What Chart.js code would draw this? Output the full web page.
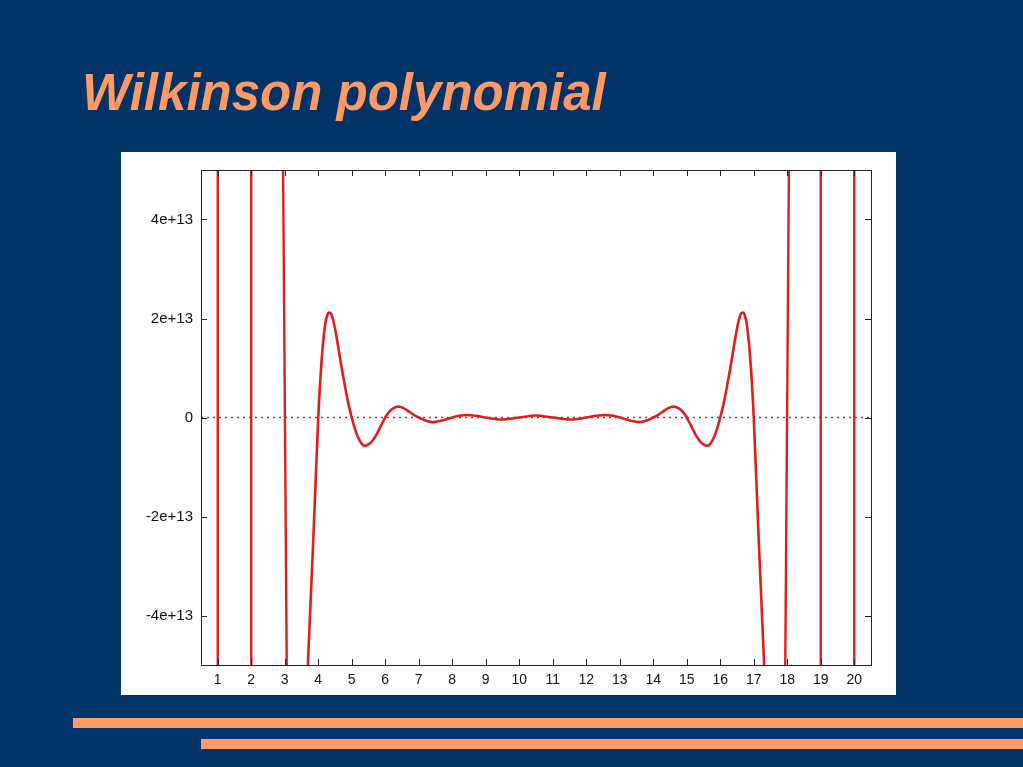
<!DOCTYPE html>
<html>
<head>
<meta charset="utf-8">
<script src="https://cdn.jsdelivr.net/npm/chart.js@4/dist/chart.umd.min.js"></script>
<style>
  html, body { margin: 0; padding: 0; }
  body { width: 1023px; height: 767px; background: #003366; position: relative; overflow: hidden; }
  #title {
    position: absolute; left: 82px; top: 67px;
    font: italic bold 51px "Liberation Sans", Arial, Helvetica, sans-serif;
    line-height: 51px; color: #ff9966; white-space: nowrap;
  }
  #panel { position: absolute; left: 121px; top: 152px; width: 775px; height: 543px; background: #fff; }
  .bar { position: absolute; background: #ff9966; }
</style>
</head>
<body>
<div id="title">Wilkinson polynomial</div>
<div id="panel"><canvas id="wilkChart"></canvas></div>
<div class="bar" style="left:73px; top:718px; width:950px; height:10px;"></div>
<div class="bar" style="left:201px; top:739px; width:822px; height:10px;"></div>
<script>
// x ticks and y ticks (y in units of 1e13)
const X_TICKS = [1, 2, 3, 4, 5, 6, 7, 8, 9, 10, 11, 12, 13, 14, 15, 16, 17, 18, 19, 20];
const Y_TICKS = [-4, -2, 0, 2, 4];
const Y_TICK_LABELS = ["-4e+13", "-2e+13", "0", "2e+13", "4e+13"];

// near-vertical crossings at the outer roots (null = gap between pieces)
const STEEP_X = [1.0, 1.0, 1.5, 2.0, 2.0, 2.5, 2.94, 3.07, 10.5, 17.93, 18.06, 18.5, 19.0, 19.0, 19.5, 20.0, 20.0];
const STEEP_Y = [6, -6, null, -6, 6, null, 6, -6, null, -6, 6, null, 6, -6, null, -6, 6];

// middle part of the curve, y in units of 1e13
const CURVE_X = [3.45, 3.69, 3.85, 4.0, 4.1, 4.2, 4.27, 4.33, 4.4, 4.5, 4.65, 4.8, 4.9,
  5.0, 5.1, 5.2, 5.3, 5.37, 5.45, 5.55, 5.65, 5.75, 5.87,
  6.0, 6.12, 6.25, 6.39, 6.55, 6.7, 6.85,
  7.0, 7.2, 7.42, 7.7, 8.0, 8.2, 8.45, 8.7, 9.0, 9.47, 10.0, 10.5,
  11.0, 11.53, 12.0, 12.3, 12.55, 12.8, 13.0, 13.3, 13.58, 13.8,
  14.0, 14.15, 14.3, 14.45, 14.61, 14.75, 14.88,
  15.0, 15.13, 15.25, 15.35, 15.45, 15.55, 15.63, 15.7, 15.8, 15.9,
  16.0, 16.1, 16.2, 16.35, 16.5, 16.6, 16.67, 16.73, 16.8, 16.9,
  17.0, 17.15, 17.31, 17.55];
const CURVE_Y = [-8.5, -5, -2.5, 0, 1.15, 1.85, 2.07, 2.12, 2.07, 1.8, 1.2, 0.62, 0.28,
  0, -0.24, -0.42, -0.53, -0.57, -0.56, -0.52, -0.44, -0.33, -0.17,
  0, 0.12, 0.19, 0.22, 0.19, 0.125, 0.055,
  0, -0.06, -0.093, -0.06, 0, 0.035, 0.05, 0.035, 0, -0.04, 0, 0.04,
  0, -0.04, 0, 0.035, 0.05, 0.035, 0, -0.06, -0.093, -0.06,
  0, 0.055, 0.125, 0.19, 0.22, 0.19, 0.12,
  0, -0.17, -0.33, -0.44, -0.52, -0.56, -0.57, -0.53, -0.42, -0.24,
  0, 0.28, 0.62, 1.2, 1.8, 2.07, 2.12, 2.07, 1.85, 1.15,
  0, -2.5, -5, -8.5];

const X_MIN = 0.5, X_MAX = 20.5, Y_MIN = -5, Y_MAX = 5;

const FONT = "'Liberation Sans', Arial, Helvetica, sans-serif";
const RED = "#dd1f1c";

// gnuplot style box with ticks pointing inwards on all four sides
const framePlugin = {
  id: "frame",
  afterDraw(chart) {
    const ctx = chart.ctx;
    const a = chart.chartArea;
    const xs = chart.scales.x, ys = chart.scales.y;
    const len = 6;
    ctx.save();
    ctx.strokeStyle = "#222";
    ctx.lineWidth = 1;
    ctx.strokeRect(Math.round(a.left) + 0.5, Math.round(a.top) + 0.5,
      Math.round(a.right - a.left), Math.round(a.bottom - a.top));
    ctx.beginPath();
    xs.ticks.forEach(t => {
      const px = Math.round(xs.getPixelForValue(t.value)) + 0.5;
      ctx.moveTo(px, a.bottom); ctx.lineTo(px, a.bottom - len);
      ctx.moveTo(px, a.top); ctx.lineTo(px, a.top + len);
    });
    ys.ticks.forEach(t => {
      const py = Math.round(ys.getPixelForValue(t.value)) + 0.5;
      ctx.moveTo(a.left, py); ctx.lineTo(a.left + len, py);
      ctx.moveTo(a.right, py); ctx.lineTo(a.right - len, py);
    });
    ctx.stroke();
    ctx.restore();
  }
};

const toPoints = (xs, ys) => xs.map((x, i) => ({ x: x, y: ys[i] }));

new Chart(document.getElementById("wilkChart"), {
  type: "scatter",
  data: {
    datasets: [
      {
        data: toPoints(CURVE_X, CURVE_Y),
        showLine: true,
        borderColor: RED,
        borderWidth: 2.6,
        pointRadius: 0,
        cubicInterpolationMode: "monotone",
        fill: false
      },
      {
        data: toPoints(STEEP_X, STEEP_Y),
        showLine: true,
        spanGaps: false,
        borderColor: RED,
        borderWidth: 2.4,
        pointRadius: 0,
        tension: 0,
        fill: false
      },
      {
        data: [{ x: X_MIN, y: 0 }, { x: X_MAX, y: 0 }],
        showLine: true,
        borderColor: "#555",
        borderWidth: 1.3,
        borderDash: [2, 4],
        pointRadius: 0
      }
    ]
  },
  options: {
    responsive: true,
    maintainAspectRatio: false,
    animation: false,
    layout: { padding: { left: 0, top: 18, right: 25, bottom: 0 } },
    plugins: { legend: { display: false }, tooltip: { enabled: false } },
    scales: {
      x: {
        type: "linear",
        min: X_MIN,
        max: X_MAX,
        afterBuildTicks: s => { s.ticks = X_TICKS.map(v => ({ value: v })); },
        afterFit: s => { s.height = 30; },
        grid: { display: false, drawTicks: false },
        border: { display: false },
        ticks: { autoSkip: false, maxRotation: 0, padding: 7, color: "#111", font: { family: FONT, size: 14 } }
      },
      y: {
        type: "linear",
        min: Y_MIN,
        max: Y_MAX,
        afterBuildTicks: s => { s.ticks = Y_TICKS.map(v => ({ value: v })); },
        afterFit: s => { s.width = 80; },
        grid: { display: false, drawTicks: false },
        border: { display: false },
        ticks: {
          padding: 8,
          color: "#111",
          font: { family: FONT, size: 15 },
          callback: v => Y_TICK_LABELS[Y_TICKS.indexOf(v)]
        }
      }
    }
  },
  plugins: [framePlugin]
});
</script>
</body>
</html>
